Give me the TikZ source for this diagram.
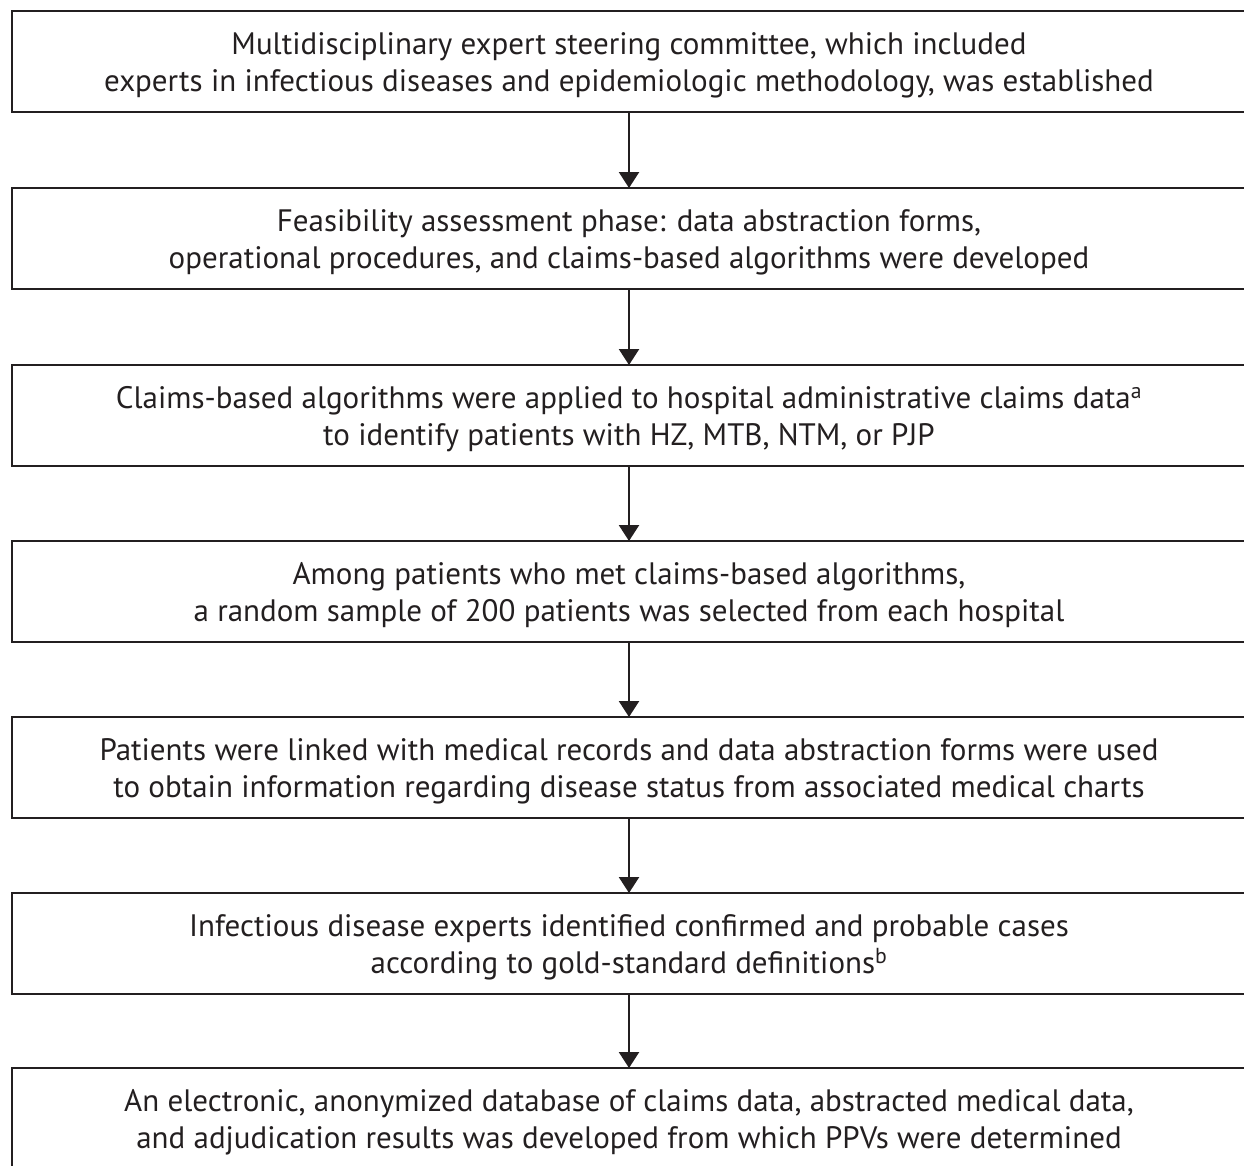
\documentclass[tikz,border=0pt]{standalone}
\usepackage{fontspec}
\setmainfont{PT Sans}
\usetikzlibrary{arrows.meta}
\definecolor{ink}{HTML}{231F20}
\begin{document}
\begin{tikzpicture}[x=1pt,y=-1pt,
  box/.style={draw=ink, line width=2.4pt, minimum width=1234pt, minimum height=101pt, inner sep=0pt, outer sep=0pt},
  txt/.style={anchor=base, inner sep=0pt, text=ink, font=\fontsize{31}{37}\selectfont},
  arr/.style={draw=ink, line width=2.4pt, -{Triangle[width=20pt,length=16pt]}}]
\useasboundingbox (0,0) rectangle (1244,1165);
\clip (0,0) rectangle (1244,1165);
\node[box] (b1) at (629,61.5) {};
\node[box] (b2) at (629,238.5) {};
\node[box] (b3) at (629,415.5) {};
\node[box] (b4) at (629,591.5) {};
\node[box] (b5) at (629,767.5) {};
\node[box] (b6) at (629,943.5) {};
\node[box] (b7) at (629,1118.5) {};
\node[txt] (t1a) at ([yshift=-43pt]b1.north) {Multidisciplinary expert steering committee, which included};
\node[txt] (t1b) at ([yshift=-80pt]b1.north) {experts in infectious diseases and epidemiologic methodology, was established};
\node[txt] (t2a) at ([yshift=-43pt]b2.north) {Feasibility assessment phase: data abstraction forms,};
\node[txt] (t2b) at ([yshift=-80pt]b2.north) {operational procedures, and claims-based algorithms were developed};
\node[txt] (t3a) at ([yshift=-43pt]b3.north) {Claims-based algorithms were applied to hospital administrative claims data\textsuperscript{a}};
\node[txt] (t3b) at ([yshift=-80pt]b3.north) {to identify patients with HZ, MTB, NTM, or PJP};
\node[txt] (t4a) at ([yshift=-43pt]b4.north) {Among patients who met claims-based algorithms,};
\node[txt] (t4b) at ([yshift=-80pt]b4.north) {a random sample of 200 patients was selected from each hospital};
\node[txt] (t5a) at ([yshift=-43pt]b5.north) {Patients were linked with medical records and data abstraction forms were used};
\node[txt] (t5b) at ([yshift=-80pt]b5.north) {to obtain information regarding disease status from associated medical charts};
\node[txt] (t6a) at ([yshift=-43pt]b6.north) {Infectious disease experts identified confirmed and probable cases};
\node[txt] (t6b) at ([yshift=-80pt]b6.north) {according to gold-standard definitions\textsuperscript{b}};
\node[txt] (t7a) at ([yshift=-43pt]b7.north) {An electronic, anonymized database of claims data, abstracted medical data,};
\node[txt] (t7b) at ([yshift=-80pt]b7.north) {and adjudication results was developed from which PPVs were determined};
\draw[arr] (b1.south) -- (b2.north);
\draw[arr] (b2.south) -- (b3.north);
\draw[arr] (b3.south) -- (b4.north);
\draw[arr] (b4.south) -- (b5.north);
\draw[arr] (b5.south) -- (b6.north);
\draw[arr] (b6.south) -- (b7.north);
\end{tikzpicture}
\end{document}
